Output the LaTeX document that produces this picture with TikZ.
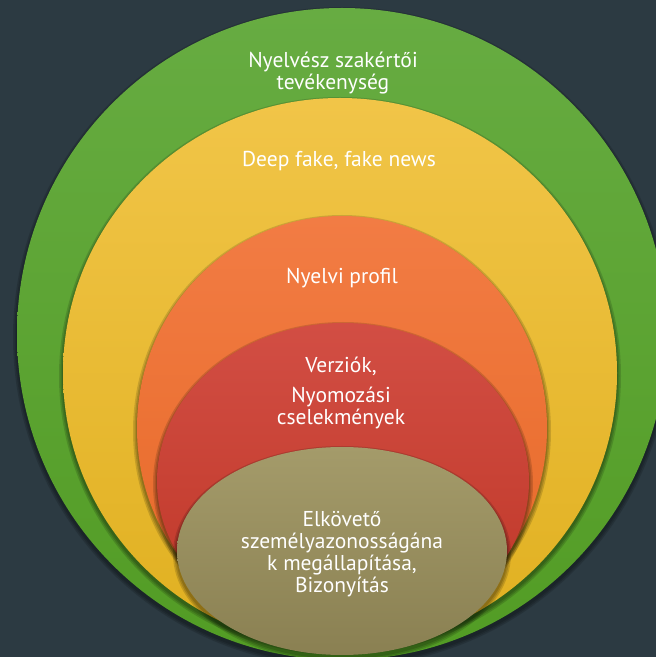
\documentclass[tikz,border=0pt]{standalone}
\usepackage{fontspec}
\setmainfont{PT Sans}
\definecolor{bgc}{RGB}{44,58,66}
\definecolor{grT}{RGB}{103,172,66}
\definecolor{grB}{RGB}{82,156,36}
\definecolor{yeT}{RGB}{241,197,72}
\definecolor{yeB}{RGB}{224,176,32}
\definecolor{orT}{RGB}{242,124,68}
\definecolor{orB}{RGB}{230,104,38}
\definecolor{reT}{RGB}{210,78,68}
\definecolor{reB}{RGB}{190,54,38}
\definecolor{olT}{RGB}{164,155,106}
\definecolor{olB}{RGB}{138,128,82}
\tikzset{
  shad/.style={fill=black, fill opacity=0.14},
  lbl/.style={text=white, align=center, inner sep=0pt, font=\fontsize{21.5}{22}\selectfont}
}
\newcommand\layer[7]{%
  \foreach \d in {1,2.5,4}
    \fill[shad] (#1,#2-3) ellipse [x radius=#3+\d, y radius=#4+\d];
  \shade[top color=#5, bottom color=#6] (#1,#2) ellipse [x radius=#3, y radius=#4];
}
\begin{document}
\begin{tikzpicture}[x=1pt,y=1pt]
\useasboundingbox (0,0) rectangle (656,657);
\fill[bgc] (0,0) rectangle (656,657);
\layer{342}{323}{325}{326}{grT}{grB}{}
\layer{340}{284}{277}{275}{yeT}{yeB}{}
\layer{342}{229}{205}{212}{orT}{orB}{}
\layer{343}{176}{186}{158}{reT}{reB}{}
\layer{342}{106}{165}{104}{olT}{olB}{}
\node[lbl] (t1) at (333,584) {Nyelvész szakértői\\tevékenység};
\node[lbl] (t2) at (339,496) {Deep fake, fake news};
\node[lbl] (t3) at (342,379) {Nyelvi profil};
\node[lbl] (t4) at (341,291) {Verziók,};
\node[lbl] (t5) at (341,249) {Nyomozási\\cselekmények};
\node[lbl] (t6) at (342,103) {Elkövető\\személyazonosságána\\k megállapítása,\\Bizonyítás};
\end{tikzpicture}
\end{document}
